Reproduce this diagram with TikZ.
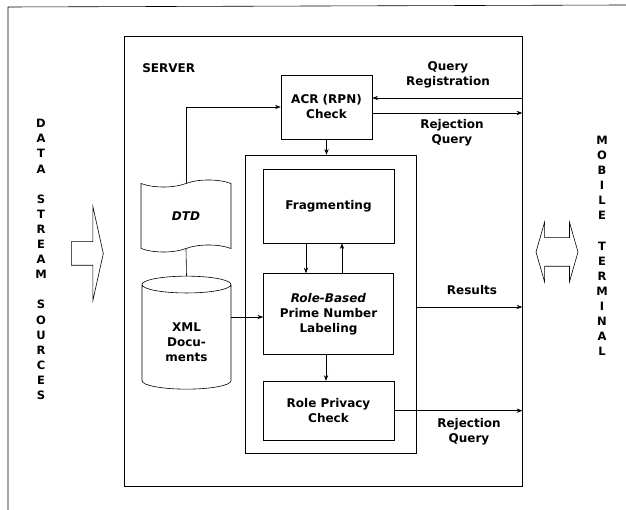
\documentclass[tikz,border=0pt]{standalone}
\usepackage{fontspec}
\setmainfont{DejaVu Sans}
\usetikzlibrary{shapes,shapes.geometric,shapes.symbols,shapes.arrows,arrows.meta,positioning,calc}

\begin{document}
\begin{tikzpicture}[
  x=1pt, y=-1pt,
  every node/.style={font=\fontsize{12}{15}\selectfont\bfseries, align=center, inner sep=0pt},
  box/.style={rectangle, draw},
  label/.style={font=\fontsize{12}{15.3}\selectfont\bfseries},
  vtext/.style={font=\fontsize{11.5}{15.1}\selectfont\bfseries},
  >=Stealth, line width=0.6pt,
]
  \useasboundingbox (0,0) rectangle (626,510);
  \draw (8,510) -- (8,7) -- (626,5);

  \node[box, minimum width=398pt, minimum height=450pt] (server) at (323,261) {};
  \node[anchor=west] (servertxt) at (142,68) {SERVER};

  \node[box, minimum width=91pt, minimum height=64pt] (acr) at (326.5,107) {ACR (RPN)\\Check};
  \node[box, minimum width=171pt, minimum height=298pt] (inner) at (330.5,304) {};
  \node[box, minimum width=131pt, minimum height=74pt] (frag) at (328.5,206) {Fragmenting};
  \node[box, minimum width=130pt, minimum height=81pt, below=30pt of frag] (role)
    {\textit{Role-Based}\\Prime Number\\Labeling};
  \node[box, minimum width=131pt, minimum height=59pt, below=26pt of role] (privacy)
    {Role Privacy\\Check};

  \node[tape, draw, tape bend top=in and out, tape bend bottom=in and out, tape bend height=7pt,
        minimum width=90pt, minimum height=72pt] (dtd) at (186,216) {\textit{DTD}};
  \node[cylinder, draw, shape border rotate=90, shape aspect=0.4, minimum width=89pt, minimum height=113pt] (xml) at (186.5,337)
    {\mbox{}\\[5pt]XML\\Docu-\\ments};

  \node[single arrow, draw, inner sep=11.5pt, minimum height=32pt, single arrow head extend=35pt,
        single arrow tip angle=155] (datain) at (86,253.5) {};
  \node[double arrow, draw, inner sep=14pt, minimum height=42pt, double arrow head extend=15.5pt,
        double arrow tip angle=148] (mobile) at (557,252) {};

  \node[vtext] (datatxt) at (41,259.5) {D\\A\\T\\A\\[15.1pt]S\\T\\R\\E\\A\\M\\[15.1pt]S\\O\\U\\R\\C\\E\\S};
  \node[vtext] (mobiletxt) at (602,246) {M\\O\\B\\I\\L\\E\\[15.1pt]T\\E\\R\\M\\I\\N\\A\\L};

  \node[label] (querytxt) at (448,74.5) {Query\\Registration};
  \node[label] (rejtxt) at (452,133) {Rejection\\Query};
  \node[label] (restxt) at (472,290) {Results};
  \node[label] (rejtxtb) at (469,432) {Rejection\\Query};

  \coordinate (qin) at (server.east |- 0,98);
  \coordinate (qout) at (server.east |- 0,113);
  \coordinate (acrin) at (acr.east |- qin);
  \coordinate (acrout) at (acr.east |- qout);
  \coordinate (resin) at (inner.east |- 0,307);

  \draw[->] (dtd.north) |- (acr.west);
  \draw (xml.north) -- (dtd.south);
  \draw[->] (qin) -- (acrin);
  \draw[->] (acrout) -- (qout);
  \draw[->] (acr.south) -- (acr.south |- inner.north);
  \draw[->] (frag.south -| 306,0) -- (role.north -| 306,0);
  \draw[->] (role.north -| 342,0) -- (frag.south -| 342,0);
  \draw[->] (role.south -| 326,0) -- (privacy.north -| 326,0);
  \draw[->] (xml.east |- 0,317) -- (role.west |- 0,317);
  \draw[->] (resin) -- (resin -| server.east);
  \draw[->] (privacy.east) -- (privacy.east -| server.east);
\end{tikzpicture}
\end{document}
